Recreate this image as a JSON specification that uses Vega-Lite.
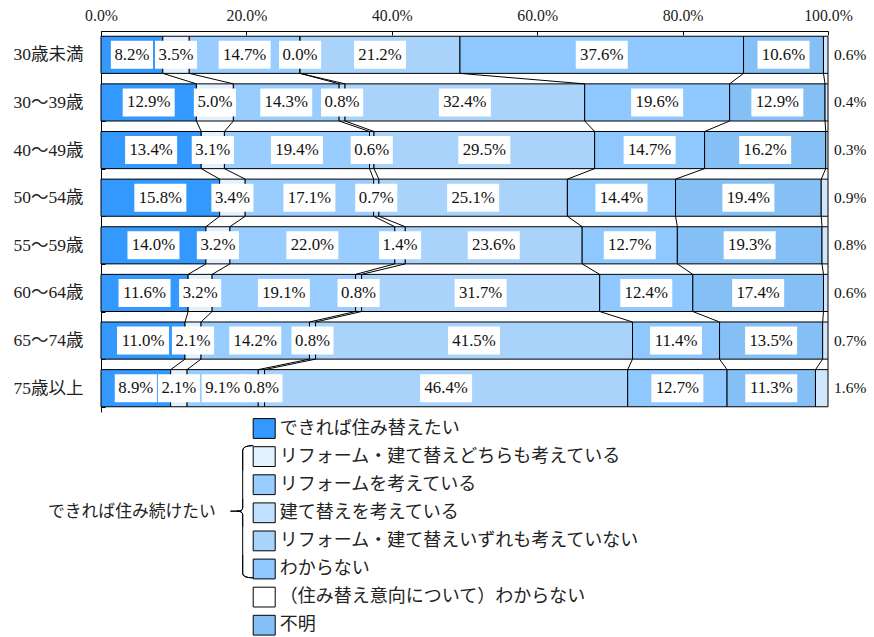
{
  "$schema": "https://vega.github.io/schema/vega-lite/v6.json",
  "width": 727,
  "height": 381,
  "autosize": {"type": "none"},
  "padding": {"left": 101, "top": 31, "right": 46, "bottom": 225},
  "background": "white",
  "config": {"view": {"stroke": null}, "font": "Noto Sans CJK JP"},
  "resolve": {"scale": {"fill": "independent"}, "legend": {"fill": "independent"}},
  "data": {
    "values": [
      {"age": "30歳未満", "ai": 1, "k": 1, "cat": "できれば住み替えたい", "v": 0.082},
      {"age": "30歳未満", "ai": 1, "k": 2, "cat": "リフォーム・建て替えどちらも考えている", "v": 0.035},
      {"age": "30歳未満", "ai": 1, "k": 3, "cat": "リフォームを考えている", "v": 0.147},
      {"age": "30歳未満", "ai": 1, "k": 4, "cat": "建て替えを考えている", "v": 0.0},
      {"age": "30歳未満", "ai": 1, "k": 5, "cat": "リフォーム・建て替えいずれも考えていない", "v": 0.212},
      {"age": "30歳未満", "ai": 1, "k": 6, "cat": "わからない", "v": 0.376},
      {"age": "30歳未満", "ai": 1, "k": 7, "cat": "（住み替え意向について）わからない", "v": 0.106},
      {"age": "30歳未満", "ai": 1, "k": 8, "cat": "不明", "v": 0.006},
      {"age": "30～39歳", "ai": 2, "k": 1, "cat": "できれば住み替えたい", "v": 0.129},
      {"age": "30～39歳", "ai": 2, "k": 2, "cat": "リフォーム・建て替えどちらも考えている", "v": 0.05},
      {"age": "30～39歳", "ai": 2, "k": 3, "cat": "リフォームを考えている", "v": 0.143},
      {"age": "30～39歳", "ai": 2, "k": 4, "cat": "建て替えを考えている", "v": 0.008},
      {"age": "30～39歳", "ai": 2, "k": 5, "cat": "リフォーム・建て替えいずれも考えていない", "v": 0.324},
      {"age": "30～39歳", "ai": 2, "k": 6, "cat": "わからない", "v": 0.196},
      {"age": "30～39歳", "ai": 2, "k": 7, "cat": "（住み替え意向について）わからない", "v": 0.129},
      {"age": "30～39歳", "ai": 2, "k": 8, "cat": "不明", "v": 0.004},
      {"age": "40～49歳", "ai": 3, "k": 1, "cat": "できれば住み替えたい", "v": 0.134},
      {"age": "40～49歳", "ai": 3, "k": 2, "cat": "リフォーム・建て替えどちらも考えている", "v": 0.031},
      {"age": "40～49歳", "ai": 3, "k": 3, "cat": "リフォームを考えている", "v": 0.194},
      {"age": "40～49歳", "ai": 3, "k": 4, "cat": "建て替えを考えている", "v": 0.006},
      {"age": "40～49歳", "ai": 3, "k": 5, "cat": "リフォーム・建て替えいずれも考えていない", "v": 0.295},
      {"age": "40～49歳", "ai": 3, "k": 6, "cat": "わからない", "v": 0.147},
      {"age": "40～49歳", "ai": 3, "k": 7, "cat": "（住み替え意向について）わからない", "v": 0.162},
      {"age": "40～49歳", "ai": 3, "k": 8, "cat": "不明", "v": 0.003},
      {"age": "50～54歳", "ai": 4, "k": 1, "cat": "できれば住み替えたい", "v": 0.158},
      {"age": "50～54歳", "ai": 4, "k": 2, "cat": "リフォーム・建て替えどちらも考えている", "v": 0.034},
      {"age": "50～54歳", "ai": 4, "k": 3, "cat": "リフォームを考えている", "v": 0.171},
      {"age": "50～54歳", "ai": 4, "k": 4, "cat": "建て替えを考えている", "v": 0.007},
      {"age": "50～54歳", "ai": 4, "k": 5, "cat": "リフォーム・建て替えいずれも考えていない", "v": 0.251},
      {"age": "50～54歳", "ai": 4, "k": 6, "cat": "わからない", "v": 0.144},
      {"age": "50～54歳", "ai": 4, "k": 7, "cat": "（住み替え意向について）わからない", "v": 0.194},
      {"age": "50～54歳", "ai": 4, "k": 8, "cat": "不明", "v": 0.009},
      {"age": "55～59歳", "ai": 5, "k": 1, "cat": "できれば住み替えたい", "v": 0.14},
      {"age": "55～59歳", "ai": 5, "k": 2, "cat": "リフォーム・建て替えどちらも考えている", "v": 0.032},
      {"age": "55～59歳", "ai": 5, "k": 3, "cat": "リフォームを考えている", "v": 0.22},
      {"age": "55～59歳", "ai": 5, "k": 4, "cat": "建て替えを考えている", "v": 0.014},
      {"age": "55～59歳", "ai": 5, "k": 5, "cat": "リフォーム・建て替えいずれも考えていない", "v": 0.236},
      {"age": "55～59歳", "ai": 5, "k": 6, "cat": "わからない", "v": 0.127},
      {"age": "55～59歳", "ai": 5, "k": 7, "cat": "（住み替え意向について）わからない", "v": 0.193},
      {"age": "55～59歳", "ai": 5, "k": 8, "cat": "不明", "v": 0.008},
      {"age": "60～64歳", "ai": 6, "k": 1, "cat": "できれば住み替えたい", "v": 0.116},
      {"age": "60～64歳", "ai": 6, "k": 2, "cat": "リフォーム・建て替えどちらも考えている", "v": 0.032},
      {"age": "60～64歳", "ai": 6, "k": 3, "cat": "リフォームを考えている", "v": 0.191},
      {"age": "60～64歳", "ai": 6, "k": 4, "cat": "建て替えを考えている", "v": 0.008},
      {"age": "60～64歳", "ai": 6, "k": 5, "cat": "リフォーム・建て替えいずれも考えていない", "v": 0.317},
      {"age": "60～64歳", "ai": 6, "k": 6, "cat": "わからない", "v": 0.124},
      {"age": "60～64歳", "ai": 6, "k": 7, "cat": "（住み替え意向について）わからない", "v": 0.174},
      {"age": "60～64歳", "ai": 6, "k": 8, "cat": "不明", "v": 0.006},
      {"age": "65～74歳", "ai": 7, "k": 1, "cat": "できれば住み替えたい", "v": 0.11},
      {"age": "65～74歳", "ai": 7, "k": 2, "cat": "リフォーム・建て替えどちらも考えている", "v": 0.021},
      {"age": "65～74歳", "ai": 7, "k": 3, "cat": "リフォームを考えている", "v": 0.142},
      {"age": "65～74歳", "ai": 7, "k": 4, "cat": "建て替えを考えている", "v": 0.008},
      {"age": "65～74歳", "ai": 7, "k": 5, "cat": "リフォーム・建て替えいずれも考えていない", "v": 0.415},
      {"age": "65～74歳", "ai": 7, "k": 6, "cat": "わからない", "v": 0.114},
      {"age": "65～74歳", "ai": 7, "k": 7, "cat": "（住み替え意向について）わからない", "v": 0.135},
      {"age": "65～74歳", "ai": 7, "k": 8, "cat": "不明", "v": 0.007},
      {"age": "75歳以上", "ai": 8, "k": 1, "cat": "できれば住み替えたい", "v": 0.089},
      {"age": "75歳以上", "ai": 8, "k": 2, "cat": "リフォーム・建て替えどちらも考えている", "v": 0.021},
      {"age": "75歳以上", "ai": 8, "k": 3, "cat": "リフォームを考えている", "v": 0.091},
      {"age": "75歳以上", "ai": 8, "k": 4, "cat": "建て替えを考えている", "v": 0.008},
      {"age": "75歳以上", "ai": 8, "k": 5, "cat": "リフォーム・建て替えいずれも考えていない", "v": 0.464},
      {"age": "75歳以上", "ai": 8, "k": 6, "cat": "わからない", "v": 0.127},
      {"age": "75歳以上", "ai": 8, "k": 7, "cat": "（住み替え意向について）わからない", "v": 0.113},
      {"age": "75歳以上", "ai": 8, "k": 8, "cat": "不明", "v": 0.016}
    ]
  },
  "encoding": {
    "y": {
      "field": "age",
      "type": "nominal",
      "sort": ["30歳未満", "30～39歳", "40～49歳", "50～54歳", "55～59歳", "60～64歳", "65～74歳", "75歳以上"],
      "scale": {"paddingInner": 0.22, "paddingOuter": 0.11},
      "axis": {
        "title": null,
        "domainColor": "#000",
        "tickColor": "#000",
        "tickBand": "extent",
        "tickSize": -4,
        "labelFontSize": 17.5,
        "labelFont": "'Liberation Serif', 'Noto Sans CJK JP', serif",
        "labelColor": "#222",
        "labelPadding": 22
      }
    }
  },
  "layer": [
    {
      "mark": {"type": "bar", "stroke": "#000", "strokeWidth": 1},
      "encoding": {
        "x": {
          "field": "v",
          "type": "quantitative",
          "stack": "normalize",
          "scale": {"domain": [0, 1], "nice": false},
          "axis": {"orient": "top", "title": null, "values": [0, 0.2, 0.4, 0.6, 0.8, 1], "format": ".1%", "grid": false, "labelFlush": false, "domainColor": "#000", "tickColor": "#000", "tickSize": -4, "labelPadding": 12, "labelFontSize": 15.8, "labelFont": "'Liberation Serif', serif", "labelColor": "#222"}
        },
        "fill": {
          "field": "cat",
          "type": "nominal",
          "scale": {
            "domain": ["できれば住み替えたい", "リフォーム・建て替えどちらも考えている", "リフォームを考えている", "建て替えを考えている", "リフォーム・建て替えいずれも考えていない", "わからない", "（住み替え意向について）わからない", "不明"],
            "range": ["#3399ff", "#e3f0fd", "#99ccff", "#b3d9ff", "#a9d3fa", "#8fc8ff", "#84bff5", "#cfe6fb"]
          },
          "legend": null
        },
        "order": {"field": "k"}
      }
    },
    {
      "transform": [{"filter": "false"}],
      "mark": {"type": "bar", "stroke": "#000", "strokeWidth": 1},
      "encoding": {
        "x": {
          "field": "v",
          "type": "quantitative",
          "stack": "normalize",
          "axis": {"orient": "top", "title": null, "values": [0, 0.2, 0.4, 0.6, 0.8, 1], "format": ".1%", "grid": false, "labelFlush": false, "domainColor": "#000", "tickColor": "#000", "tickSize": -4, "labelPadding": 12, "labelFontSize": 15.8, "labelFont": "'Liberation Serif', serif", "labelColor": "#222"}
        },
        "fill": {
          "field": "cat",
          "type": "nominal",
          "scale": {
            "domain": ["できれば住み替えたい", "リフォーム・建て替えどちらも考えている", "リフォームを考えている", "建て替えを考えている", "リフォーム・建て替えいずれも考えていない", "わからない", "（住み替え意向について）わからない", "不明"],
            "range": ["#3399ff", "#e3f0fd", "#99ccff", "#c2e0ff", "#a9d3fa", "#8fc8ff", "#ffffff", "#84bff5"]
          },
          "legend": {
            "orient": "none",
            "legendX": -53,
            "legendY": 386,
            "direction": "vertical",
            "title": ["できれば住み続けたい", " "],
            "titleLineHeight": 17,
            "titleOrient": "left",
            "titleAnchor": "middle",
            "titleBaseline": "bottom",
            "titleFontSize": 16.8,
            "titleFontWeight": "normal",
            "titleFont": "Noto Sans CJK JP",
            "titleColor": "#222",
            "titlePadding": 36.7,
            "labelFont": "Noto Sans CJK JP",
            "labelFontSize": 18,
            "labelColor": "#222",
            "labelLimit": 600,
            "labelOffset": 4,
            "symbolSize": 484,
            "symbolStrokeWidth": 1,
            "symbolStrokeColor": "#000",
            "rowPadding": -4.9,
            "gridAlign": "all",
            "padding": 0,
            "encode": {
              "symbols": {
                "update": {
                  "shape": {"signal": "datum.index===1 ? 'M-3.1,-1.277M-3.1,1.277M-1,-0.9L1,-0.9L1,0.9L-1,0.9ZM-1,-1.0Q-1.955,-1.0 -1.955,-0.55L-1.955,1.277L-1.955,-0.55Q-1.955,-1.0 -1,-1.0' : (datum.index===2 || datum.index===4) ? 'M-3.1,-1.277M-3.1,1.277M-1,-0.9L1,-0.9L1,0.9L-1,0.9ZM-1.955,-1.277L-1.955,1.277' : datum.index===3 ? 'M-3.1,-1.277M-3.1,1.277M-1,-0.9L1,-0.9L1,0.9L-1,0.9ZM-1.955,-1.277L-1.955,-0.45Q-1.955,-0.15 -2.5,-0.15L-3.07,-0.15L-2.5,-0.15Q-1.955,-0.15 -1.955,-0.45ZM-1.955,1.277L-1.955,0.15Q-1.955,-0.15 -2.5,-0.15Q-1.955,-0.15 -1.955,0.15Z' : datum.index===5 ? 'M-3.1,-1.277M-3.1,1.277M-1,-0.9L1,-0.9L1,0.9L-1,0.9ZM-1.955,-1.277L-1.955,0.4Q-1.955,0.8 -1,0.8Q-1.955,0.8 -1.955,0.4Z' : 'M-3.1,-1.277M-3.1,1.277M-1,-0.9L1,-0.9L1,0.9L-1,0.9Z'"},
                  "stroke": {"value": "#000"},
                  "strokeWidth": {"value": 1},
                  "opacity": {"value": 1}
                }
              }
            }
          }
        },
        "order": {"field": "k"}
      }
    },
    {
      "transform": [
        {"stack": "v", "groupby": ["age"], "sort": [{"field": "k", "order": "ascending"}], "offset": "normalize", "as": ["s0", "s1"]},
        {"window": [{"op": "lead", "field": "s1", "as": "n1"}, {"op": "lead", "field": "age", "as": "nage"}], "groupby": ["cat"], "sort": [{"field": "ai", "order": "ascending"}]},
        {"filter": "datum.nage != null"}
      ],
      "mark": {"type": "rule", "stroke": "#000", "strokeWidth": 1},
      "encoding": {
        "x": {
          "field": "s1",
          "type": "quantitative",
          "axis": {"orient": "top", "title": null, "values": [0, 0.2, 0.4, 0.6, 0.8, 1], "format": ".1%", "grid": false, "labelFlush": false, "domainColor": "#000", "tickColor": "#000", "tickSize": -4, "labelPadding": 12, "labelFontSize": 15.8, "labelFont": "'Liberation Serif', serif", "labelColor": "#222"}
        },
        "x2": {"field": "n1"},
        "y": {"field": "age", "type": "nominal", "sort": ["30歳未満", "30～39歳", "40～49歳", "50～54歳", "55～59歳", "60～64歳", "65～74歳", "75歳以上"], "bandPosition": 1},
        "y2": {"field": "nage", "bandPosition": 0}
      }
    },
    {
      "mark": {"type": "point", "filled": true, "fill": "#ffffff", "strokeWidth": 0},
      "encoding": {
        "x": {
          "field": "v",
          "type": "quantitative",
          "stack": "normalize",
          "bandPosition": 0.5,
          "axis": {"orient": "top", "title": null, "values": [0, 0.2, 0.4, 0.6, 0.8, 1], "format": ".1%", "grid": false, "labelFlush": false, "domainColor": "#000", "tickColor": "#000", "tickSize": -4, "labelPadding": 12, "labelFontSize": 15.8, "labelFont": "'Liberation Serif', serif", "labelColor": "#222"}
        },
        "detail": {"field": "cat"},
        "order": {"field": "k"},
        "size": {"value": 2704},
        "shape": {"condition": {"test": "datum.v >= 0.1", "value": "M-1,-0.54L1,-0.54L1,0.54L-1,0.54Z"}, "value": "M-0.81,-0.54L0.81,-0.54L0.81,0.54L-0.81,0.54Z"},
        "opacity": {"condition": {"test": "datum.cat === '不明'", "value": 0}, "value": 1}
      }
    },
    {
      "mark": {"type": "text", "font": "'Liberation Serif', serif", "fontSize": 16.8, "color": "#111"},
      "encoding": {
        "x": {
          "field": "v",
          "type": "quantitative",
          "stack": "normalize",
          "bandPosition": 0.5,
          "axis": {"orient": "top", "title": null, "values": [0, 0.2, 0.4, 0.6, 0.8, 1], "format": ".1%", "grid": false, "labelFlush": false, "domainColor": "#000", "tickColor": "#000", "tickSize": -4, "labelPadding": 12, "labelFontSize": 15.8, "labelFont": "'Liberation Serif', serif", "labelColor": "#222"}
        },
        "detail": {"field": "cat"},
        "order": {"field": "k"},
        "text": {"field": "v", "type": "quantitative", "format": ".1%"},
        "opacity": {"condition": {"test": "datum.cat === '不明'", "value": 0}, "value": 1}
      }
    },
    {
      "transform": [{"filter": "datum.cat === '不明'"}],
      "mark": {"type": "text", "font": "'Liberation Serif', serif", "fontSize": 15.5, "color": "#111", "align": "left", "dx": 6},
      "encoding": {
        "x": {
          "datum": 1,
          "type": "quantitative",
          "axis": {"orient": "top", "title": null, "values": [0, 0.2, 0.4, 0.6, 0.8, 1], "format": ".1%", "grid": false, "labelFlush": false, "domainColor": "#000", "tickColor": "#000", "tickSize": -4, "labelPadding": 12, "labelFontSize": 15.8, "labelFont": "'Liberation Serif', serif", "labelColor": "#222"}
        },
        "text": {"field": "v", "type": "quantitative", "format": ".1%"}
      }
    }
  ]
}
